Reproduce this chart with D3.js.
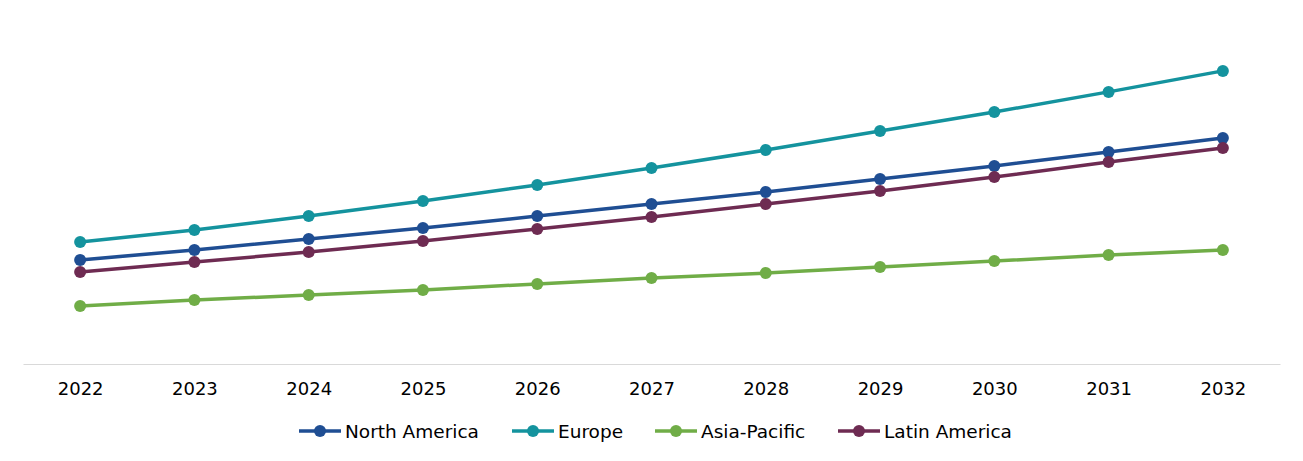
<!DOCTYPE html>
<html>
<head>
<meta charset="utf-8">
<script src="https://cdn.jsdelivr.net/npm/d3@7"></script>
<style>
  body { margin: 0; background: #fff; }
  svg { display: block; font-family: "DejaVu Sans", Verdana, sans-serif; }
</style>
</head>
<body>
<svg width="1303" height="461"></svg>
<script>
// values (no y axis shown, arbitrary units)
var years = ["2022", "2023", "2024", "2025", "2026", "2027", "2028", "2029", "2030", "2031", "2032"];
var regions = ["North America", "Europe", "Asia-Pacific", "Latin America"];
var colors = ["#1f4e93", "#14939e", "#70ad47", "#6e2b52"];

var northAmerica = [3.47, 3.80, 4.17, 4.53, 4.93, 5.33, 5.73, 6.17, 6.60, 7.07, 7.53];
var europe       = [4.07, 4.47, 4.93, 5.43, 5.97, 6.53, 7.13, 7.77, 8.40, 9.07, 9.77];
var asiaPacific  = [1.93, 2.13, 2.30, 2.47, 2.67, 2.87, 3.03, 3.23, 3.43, 3.63, 3.80];
var latinAmerica = [3.07, 3.40, 3.73, 4.10, 4.50, 4.90, 5.33, 5.77, 6.23, 6.73, 7.20];

var seriesValues = [northAmerica, europe, asiaPacific, latinAmerica];

var svg = d3.select("svg");

var x = d3.scalePoint()
    .domain(years)
    .range([23, 1280])
    .padding(0.5);

var y = d3.scaleLinear()
    .domain([0, 10])
    .range([364, 64]);

// x axis
var axis = svg.append("g")
    .attr("transform", "translate(0,364)")
    .call(d3.axisBottom(x).tickSize(0).tickPadding(18));
axis.select(".domain").attr("stroke", "#d9d9d9");
axis.selectAll("text")
    .attr("font-size", 18)
    .attr("font-family", "DejaVu Sans, Verdana, sans-serif")
    .attr("fill", "#000");

var series = regions.map(function(name, i) {
  return { name: name, color: colors[i], values: seriesValues[i] };
});

var line = d3.line()
    .x(function(d, i) { return x(years[i]); })
    .y(function(d) { return y(d); });

var g = svg.selectAll(".series")
  .data(series)
  .enter().append("g")
    .attr("class", "series");

g.append("path")
    .attr("d", function(d) { return line(d.values); })
    .attr("fill", "none")
    .attr("stroke", function(d) { return d.color; })
    .attr("stroke-width", 3.5);

g.selectAll("circle")
  .data(function(d) { return d.values.map(function(v, i) { return { v: v, i: i, color: d.color }; }); })
  .enter().append("circle")
    .attr("cx", function(d) { return x(years[d.i]); })
    .attr("cy", function(d) { return y(d.v); })
    .attr("r", 6)
    .attr("fill", function(d) { return d.color; });

// legend
var legendX = [299, 512, 655, 838];
var legend = svg.selectAll(".legend")
  .data(series)
  .enter().append("g")
    .attr("class", "legend")
    .attr("transform", function(d, i) { return "translate(" + legendX[i] + ",431)"; });

legend.append("line")
    .attr("x1", 0).attr("x2", 42)
    .attr("stroke", function(d) { return d.color; })
    .attr("stroke-width", 3.5);

legend.append("circle")
    .attr("cx", 21)
    .attr("r", 6)
    .attr("fill", function(d) { return d.color; });

legend.append("text")
    .attr("x", 46)
    .attr("y", 7)
    .attr("font-size", 18.5)
    .attr("fill", "#000")
    .text(function(d) { return d.name; });
</script>
</body>
</html>
